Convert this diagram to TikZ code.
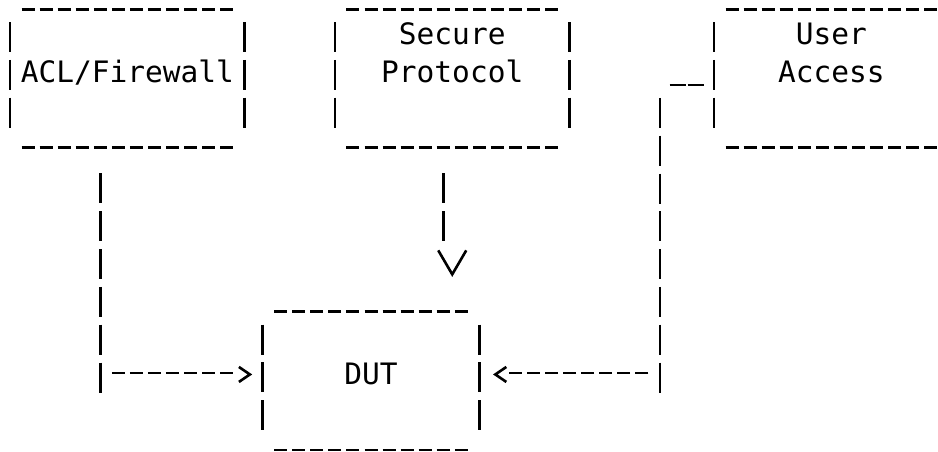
\documentclass[tikz,border=0pt]{standalone}
\usepackage{fontspec}
\newfontfamily\asciifont{DejaVu Sans Mono}
\usepackage{tikz}
\usetikzlibrary{positioning, arrows.meta}

% dashed frame round a box node
\newcommand{\asciiframe}[1]{%
  \draw[hbar] ([xshift=11.55pt]#1.north west) -- ([xshift=-11.55pt]#1.north east);
  \draw[hbar] ([xshift=11.55pt]#1.south west) -- ([xshift=-11.55pt]#1.south east);
  \draw[vbar] ([yshift=-12.85pt]#1.north west) -- ([yshift=19.8pt]#1.south west);
  \draw[vbar] ([yshift=-12.85pt]#1.north east) -- ([yshift=19.8pt]#1.south east);}

\begin{document}
\begin{tikzpicture}[x=18.05pt, y=-37.8pt, line width=2.6pt,
    asciibox/.style={rectangle, inner sep=0pt, outer sep=0pt,
      minimum width=234.65pt, minimum height=138.4pt,
      text height=20pt, text depth=12.8pt, align=center,
      font=\asciifont\fontsize{29.5}{37.8}\selectfont},
    hbar/.style={dash pattern=on 13pt off 5.05pt},
    vbar/.style={dash pattern=on 30pt off 7.8pt},
    ubar/.style={dash pattern=on 16.5pt off 1.55pt},
    tipline/.style 2 args={dash pattern=on 0pt off 90pt,
      -{Straight Barb[sharp, length=#1, width=#2]}}]
  \useasboundingbox (-0.554,0.0132) rectangle (51.41,11.97);
  \clip (-0.554,0.0132) rectangle (51.41,11.97);

  % Boxes
  \node[asciibox] (acl) at (6.5,2.088) {ACL/Firewall};
  \node[asciibox, right=90.25pt of acl] (secure) {Secure\\Protocol};
  \node[asciibox, right=144.4pt of secure] (user) {User\\Access};
  \node[asciibox, minimum width=216.6pt, below right=164.1pt and 18.05pt of acl] (dut) {DUT};
  \asciiframe{acl}
  \asciiframe{secure}
  \asciiframe{user}
  \asciiframe{dut}

  % ACL/Firewall to DUT
  \coordinate (acl-out) at ([xshift=-27.075pt, yshift=-25.85pt]acl.south);
  \coordinate (acl-in) at (acl-out |- dut.west);
  \draw[vbar] (acl-out) -- ([yshift=-11.57pt]acl-in);
  \draw[hbar] ([xshift=11.55pt, yshift=7.9pt]acl-in) -- ([xshift=-29.6pt, yshift=7.9pt]dut.west);
  \draw[tipline={11pt}{15pt}] ([xshift=-24pt, yshift=6.5pt]dut.west) -- ([xshift=-10.5pt, yshift=6.5pt]dut.west);

  % Secure Protocol to DUT
  \coordinate (sec-out) at ([xshift=-9.025pt, yshift=-25.85pt]secure.south);
  \coordinate (sec-in) at (sec-out |- dut.north);
  \draw[vbar] (sec-out) -- ([yshift=70.4pt]sec-in);
  \draw[tipline={24pt}{28pt}] ([xshift=9.025pt, yshift=62pt]sec-in) -- ([xshift=9.025pt, yshift=34.8pt]sec-in);

  % User Access to DUT
  \coordinate (user-out) at ([xshift=-54.15pt, yshift=-19.5pt]user.west);
  \coordinate (user-in) at (user-out |- dut.east);
  \draw[ubar] ([xshift=-44.4pt, yshift=-6.6pt]user.west) -- ([xshift=-10pt, yshift=-6.6pt]user.west);
  \draw[vbar] (user-out) -- ([yshift=-11.57pt]user-in);
  \draw[hbar] ([xshift=-11.55pt, yshift=7.9pt]user-in) -- ([xshift=29.6pt, yshift=7.9pt]dut.east);
  \draw[tipline={11pt}{15pt}] ([xshift=27pt, yshift=6.5pt]dut.east) -- ([xshift=13.7pt, yshift=6.5pt]dut.east);
\end{tikzpicture}
\end{document}
